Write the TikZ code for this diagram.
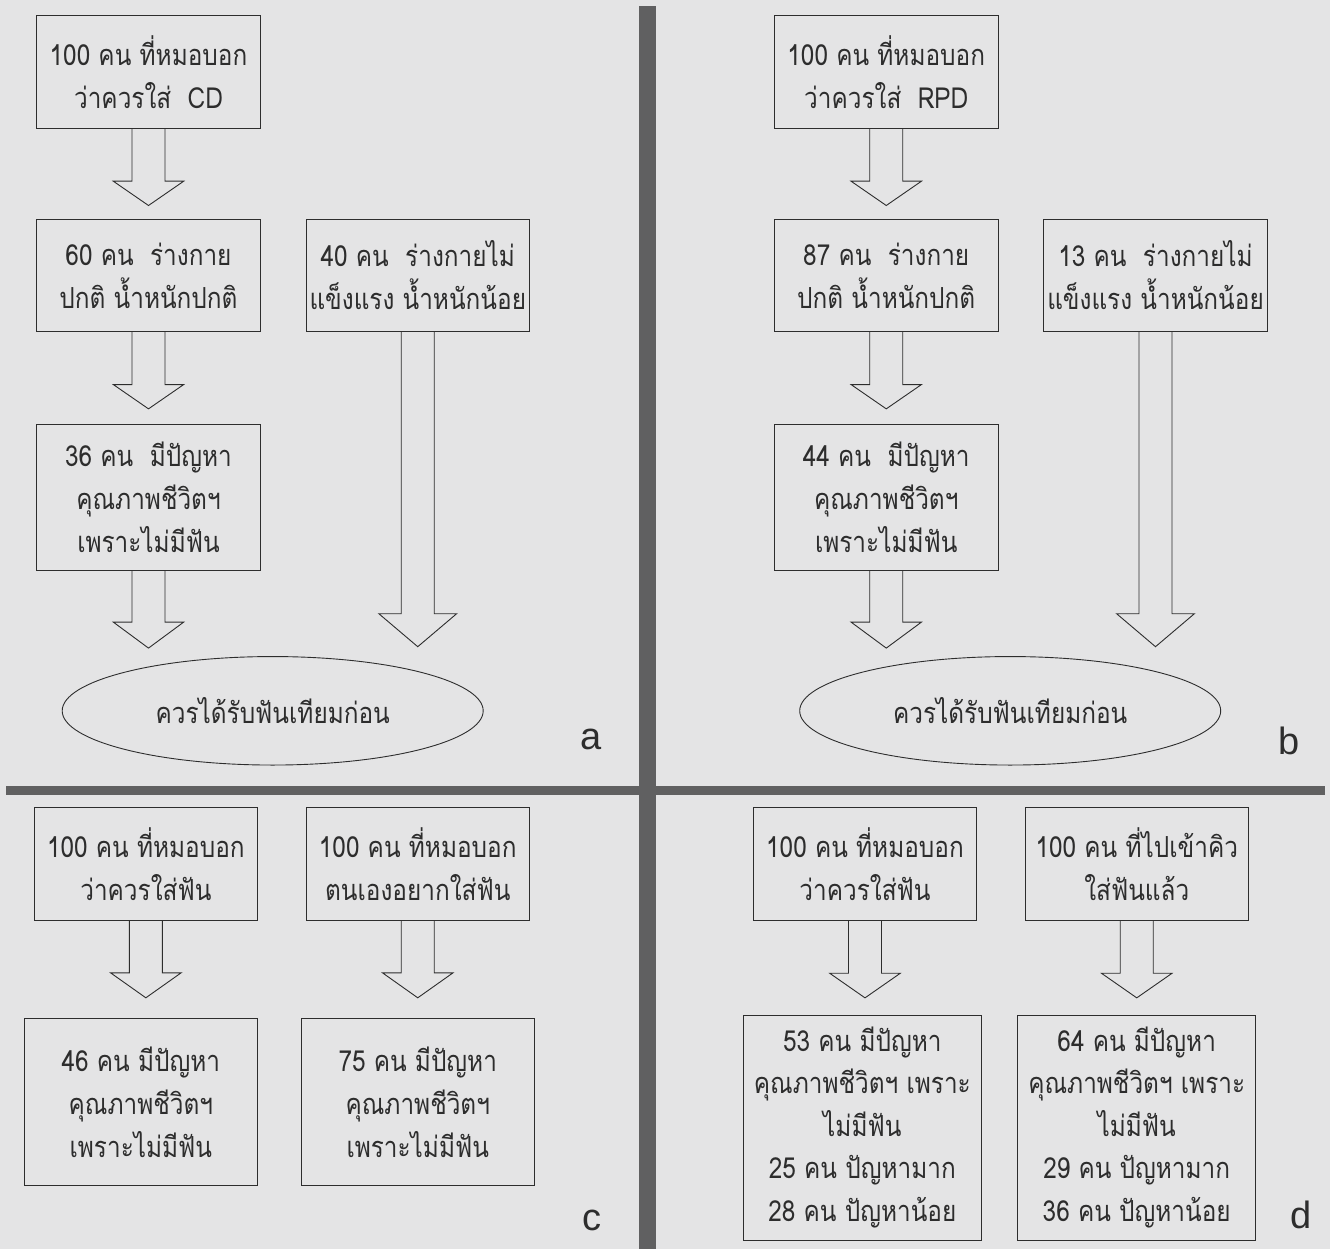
\documentclass[tikz,border=0pt]{standalone}
\usepackage{fontspec}
\setmainfont{Loma}[Script=Thai, FakeStretch=0.84]
\newfontfamily\latinfont{Liberation Sans}
\usetikzlibrary{positioning, calc, shapes.geometric}
\definecolor{paper}{RGB}{228,228,229}
\definecolor{divider}{RGB}{96,96,97}
\definecolor{ink}{RGB}{45,45,45}

% hollow block arrow: source, target, gap, head length, head half width
\newcommand{\fatarrow}[5]{%
  \coordinate (tip) at ($(#1.south |- #2.north)+(0,-#3)$);
  \draw[fat] ($(#1.south)+(-16.5,0)$) -- ($(tip)+(-16.5,-#4)$) -- ($(tip)+(-#5,-#4)$) -- (tip)
    -- ($(tip)+(#5,-#4)$) -- ($(tip)+(16.5,-#4)$) -- ($(#1.south)+(16.5,0)$);}

\begin{document}
\begin{tikzpicture} [%
    x = 1pt,
    y = -1pt,
    on grid,
    every node/.style = {text = ink},
    box/.style = {%
      draw = ink,
      line width = 0.9pt,
      minimum width = 223.5pt,
      minimum height = 112.5pt,
      inner sep = 0pt,
      align = center,
      font = \fontsize{29}{43}\selectfont },
    tallbox/.style = {box, minimum height = 146pt},
    widebox/.style = {box, minimum width = 233pt, minimum height = 167.5pt},
    bigbox/.style = {box, minimum width = 238pt, minimum height = 225pt, font = \fontsize{29}{42.5}\selectfont},
    verdict/.style = {box, ellipse, minimum width = 421pt, minimum height = 108.5pt},
    fat/.style = {draw = ink, line width = 0.9pt, line join = miter},
    tag/.style = {font = \latinfont\fontsize{38}{40}\selectfont, inner sep = 0pt}
  ]

  \fill[paper] (0,0) rectangle (1330,1249);
  \useasboundingbox (0,0) rectangle (1330,1249);
  \fill[divider] (639,6.5) rectangle (656,1249);
  \fill[divider] (6.3,786) rectangle (639,795);
  \fill[divider] (656,786) rectangle (1325,795);

  % a
  \node[box] (A1) at (148.5,72) {100 คน ที่หมอบอก\\ว่าควรใส่~ CD};
  \node[box] (A2) [below=203.5pt of A1] {60 คน~ ร่างกาย\\ปกติ น้ำหนักปกติ};
  \node[box] (A3) [right=269.25pt of A2] {40 คน~ ร่างกายไม่\\แข็งแรง น้ำหนักน้อย};
  \node[tallbox] (A4) [below=221.5pt of A2] {36 คน~ มีปัญหา\\คุณภาพชีวิตฯ\\เพราะไม่มีฟัน};
  \node[verdict] (E1) at (272.7,710.8) {ควรได้รับฟันเทียมก่อน};
  \node[tag] (la) at (591.5,739) {a};

  \fatarrow{A1}{A2}{13.3}{24.3}{35.2}
  \fatarrow{A2}{A4}{14.7}{24.3}{35.2}
  \fatarrow{A4}{E1}{8}{26}{35.2}
  \fatarrow{A3}{E1}{9.4}{33}{38.9}

  % b
  \node[box] (B1) at (886.25,72) {100 คน ที่หมอบอก\\ว่าควรใส่~ RPD};
  \node[box] (B2) [below=203.5pt of B1] {87 คน~ ร่างกาย\\ปกติ น้ำหนักปกติ};
  \node[box] (B3) [right=269.25pt of B2] {13 คน~ ร่างกายไม่\\แข็งแรง น้ำหนักน้อย};
  \node[tallbox] (B4) [below=221.5pt of B2] {44 คน~ มีปัญหา\\คุณภาพชีวิตฯ\\เพราะไม่มีฟัน};
  \node[verdict] (E2) at (1010.2,710.8) {ควรได้รับฟันเทียมก่อน};
  \node[tag] (lb) at (1289,740.5) {b};

  \fatarrow{B1}{B2}{13.3}{24.3}{35.2}
  \fatarrow{B2}{B4}{14.7}{24.3}{35.2}
  \fatarrow{B4}{E2}{8}{26}{35.2}
  \fatarrow{B3}{E2}{9.4}{33}{38.9}

  % c
  \node[box] (C1) at (145.85,864.15) {100 คน ที่หมอบอก\\ว่าควรใส่ฟัน};
  \node[box] (C2) [right=271.9pt of C1] {100 คน ที่หมอบอก\\ตนเองอยากใส่ฟัน};
  \node[widebox] (C3) [below left=237.85pt and 5pt of C1] {46 คน มีปัญหา\\คุณภาพชีวิตฯ\\เพราะไม่มีฟัน};
  \node[widebox] (C4) [right=276.9pt of C3] {75 คน มีปัญหา\\คุณภาพชีวิตฯ\\เพราะไม่มีฟัน};
  \node[tag] (lc) at (591.5,1220) {c};

  \fatarrow{C1}{C3}{20}{25}{35.3}
  \fatarrow{C2}{C4}{20}{25}{35.3}

  % d
  \node[box] (D1) at (865,864.15) {100 คน ที่หมอบอก\\ว่าควรใส่ฟัน};
  \node[box] (D2) [right=271.75pt of D1] {100 คน ที่ไปเข้าคิว\\ใส่ฟันแล้ว};
  \node[bigbox] (D3) [below left=263.35pt and 2.65pt of D1] {53 คน มีปัญหา\\คุณภาพชีวิตฯ เพราะ\\ไม่มีฟัน\\25 คน ปัญหามาก\\28 คน ปัญหาน้อย};
  \node[bigbox] (D4) [right=274.35pt of D3] {64 คน มีปัญหา\\คุณภาพชีวิตฯ เพราะ\\ไม่มีฟัน\\29 คน ปัญหามาก\\36 คน ปัญหาน้อย};
  \node[tag] (ld) at (1301,1214.5) {d};

  \fatarrow{D1}{D3}{16.7}{24.6}{35.3}
  \fatarrow{D2}{D4}{16.7}{24.6}{35.3}

\end{tikzpicture}
\end{document}
